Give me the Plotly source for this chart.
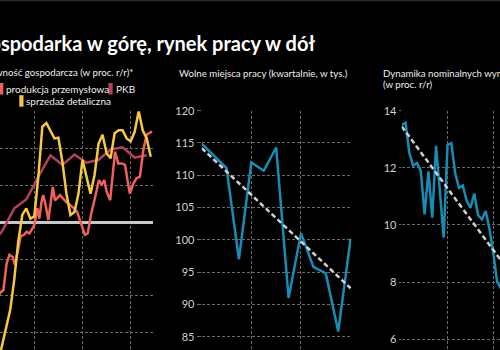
import plotly.graph_objects as go

# ---------------- data ----------------
# Panel 1: Aktywność gospodarcza (w proc. r/r) — month index
retail_months = list(range(3, 42))
retail_vals = [-19.0, -16.7, -14.2, -11.9, -7.8, -2.6, 1.0, 1.9, 0.5, 0.8, 6.2, 13.0, 13.5, 12.5,
               11.4, 11.5, 8.2, 3.9, 1.0, 1.4, 3.9, 8.5, 6.2, 3.9, 6.4, 10.7, 11.9, 9.4, 8.7,
               12.1, 12.5, 12.5, 11.4, 11.0, 12.3, 15.1, 12.5, 11.4, 8.9]

prod_months = [2.6, 3.45, 4.3, 5.1, 5.8, 6.6, 7.2, 8.0, 8.6, 9.4, 10.1, 10.8, 11.3, 12.0, 12.75,
               13.25, 13.8, 14.2, 14.8, 15.5, 16.6, 17.15, 17.7, 18.4, 19.9, 20.9, 21.9, 22.7,
               23.8, 24.6, 25.3, 26.1, 27.1, 28.1, 28.8, 29.4, 30.0, 30.9, 32.1, 32.9, 33.8,
               34.6, 35.4, 35.8, 36.7, 37.5, 38.3, 39.2, 40.0, 40.8, 41.4]
prod_vals = [-10.6, -9.6, -9.2, -5.6, -4.4, -4.7, -5.8, -3.8, -1.9, -1.7, -1.3, -1.5, -1.0, -0.4,
             1.9, 0.5, 2.8, 3.7, 2.4, 0.3, 4.8, 3.0, 3.3, 3.7, 2.8, 2.4, 1.9, 1.4, -0.4, -1.7,
             -1.5, 1.0, 3.3, 5.75, 5.1, 5.75, 4.2, 3.0, 9.6, 8.0, 8.0, 7.8, 5.1, 3.9, 5.3, 6.0,
             6.2, 10.0, 11.9, 12.2, 12.3]

gdp_months = [1, 4, 7, 10, 13, 16, 19, 22, 25, 28, 31, 34, 37, 40]
gdp_vals = [-3.0, -1.2, 1.9, 3.1, 6.2, 9.1, 7.8, 9.2, 8.1, 8.5, 9.9, 10.2, 8.8, 9.1]

# Panel 2: Wolne miejsca pracy (kwartalnie, w tys.)
vac_q = list(range(13))
vac_vals = [114.9, 113.0, 111.1, 97.0, 112.0, 110.7, 114.3, 91.0, 101.0, 95.8, 94.8, 85.8, 100.2]
vac_trend_q = [0, 12]
vac_trend = [114.2, 92.5]

# Panel 3: Dynamika nominalnych wynagrodzeń (w proc. r/r)
wage_m = list(range(27))
wage_vals = [13.50, 13.58, 12.52, 12.08, 12.17, 11.90, 10.37, 11.88, 10.26, 12.77, 11.17, 9.56,
             12.81, 12.86, 11.82, 11.30, 11.38, 10.85, 10.60, 11.10, 10.34, 10.20, 10.49, 9.85,
             9.00, 8.00, 7.77]
wage_trend_m = [0, 26]
wage_trend = [13.45, 8.76]

# ---------------- style ----------------
BG = "#000000"
GRID = "#6a6a6a"
C_PROD = "#f0605d"
C_GDP = "#b3405c"
C_RETAIL = "#f5c842"
C_BLUE = "#168db5"
C_TREND = "#d0d0d0"
FONT = "Lato"
W, H = 500, 350

fig = go.Figure()

fig.add_trace(go.Scatter(x=gdp_months, y=gdp_vals, mode="lines",
                         line=dict(color=C_GDP, width=2.5), xaxis="x", yaxis="y"))
fig.add_trace(go.Scatter(x=prod_months, y=prod_vals, mode="lines",
                         line=dict(color=C_PROD, width=2.5), xaxis="x", yaxis="y"))
fig.add_trace(go.Scatter(x=retail_months, y=retail_vals, mode="lines",
                         line=dict(color=C_RETAIL, width=2.5), xaxis="x", yaxis="y"))

fig.add_trace(go.Scatter(x=vac_q, y=vac_vals, mode="lines",
                         line=dict(color=C_BLUE, width=2.5), xaxis="x2", yaxis="y2"))
fig.add_trace(go.Scatter(x=vac_trend_q, y=vac_trend, mode="lines",
                         line=dict(color=C_TREND, width=2.5, dash="5px,3px"), xaxis="x2", yaxis="y2"))

fig.add_trace(go.Scatter(x=wage_m, y=wage_vals, mode="lines",
                         line=dict(color=C_BLUE, width=2.5), xaxis="x3", yaxis="y3"))
fig.add_trace(go.Scatter(x=wage_trend_m, y=wage_trend, mode="lines",
                         line=dict(color=C_TREND, width=2.5, dash="5px,3px"), xaxis="x3", yaxis="y3"))

def py(p):
    return 1 - p / H

def px(p):
    return p / W

grid = dict(showgrid=True, gridcolor=GRID, griddash="3px,2px", gridwidth=1,
            zeroline=False, showline=False, automargin=False)

fig.update_layout(
    width=W, height=H, margin=dict(l=0, r=0, t=0, b=0, autoexpand=False),
    paper_bgcolor=BG, plot_bgcolor=BG, showlegend=False,
    font=dict(family=FONT, color="#dddddd", size=11),
    xaxis=dict(domain=[0, px(152.7)], range=[3.45, 41.49], tick0=0, dtick=12, anchor="y",
               showticklabels=False, **grid),
    yaxis=dict(domain=[0, py(111.2)], range=[-17.35, 15.1], tick0=0, dtick=5, anchor="x",
               showticklabels=False, showgrid=True, gridcolor=GRID, griddash="3px,2px",
               zeroline=True, zerolinecolor="#c8c8c8", zerolinewidth=2.5, showline=False,
               automargin=False),
    xaxis2=dict(domain=[px(201.7), px(351.5)], range=[0, 12.07], tick0=0, dtick=4, anchor="y2",
                showticklabels=False, **grid),
    yaxis2=dict(domain=[0, py(110.7)], range=[82.94, 120], tick0=0, dtick=5, anchor="x2",
                ticks="outside", ticklen=4, tickcolor=GRID,
                tickfont=dict(family=FONT, size=11, color="#d0d0d0"), **grid),
    xaxis3=dict(domain=[px(401.7), 1], range=[0, 25.74], tick0=0, dtick=12, anchor="y3",
                showticklabels=False, **grid),
    yaxis3=dict(domain=[0, py(110.7)], range=[5.625, 14], tick0=0, dtick=2, anchor="x3",
                ticks="outside", ticklen=2, tickcolor=GRID,
                tickfont=dict(family=FONT, size=11, color="#d0d0d0"), **grid),
)

def label(text, x, y, size=11, color="#eeeeee", weight=None):
    f = dict(family=FONT, size=size, color=color)
    if weight:
        f["weight"] = weight
    fig.add_annotation(text=text, x=px(x), y=py(y), xref="paper", yref="paper",
                       xanchor="left", yanchor="middle", showarrow=False, font=f,
                       borderpad=0)

label("Gospodarka w górę, rynek pracy w dół", -26, 43, size=20, color="#ffffff", weight=700)
label("Aktywność gospodarcza (w proc. r/r)*", -26.5, 72, size=9.7)
label("Wolne miejsca pracy (kwartalnie, w tys.)", 178, 72.5, size=9.7)
label("Dynamika nominalnych wynagrodzeń", 381.5, 72.5, size=9.7)
label("(w proc. r/r)", 381.5, 84, size=9.7)

label("produkcja przemysłowa", 4.5, 89, size=10)
label("PKB", 114.5, 89, size=10)
label("sprzedaż detaliczna", 24.5, 101, size=10)

shapes = []
def rect(x0, x1, y0, y1, color):
    shapes.append(dict(type="rect", xref="paper", yref="paper", x0=px(x0), x1=px(x1),
                       y0=py(y1), y1=py(y0), fillcolor=color, line=dict(width=0)))

rect(-1.5, 3.3, 83, 94.5, C_PROD)
rect(108.3, 112.7, 83, 94.5, C_GDP)
rect(19.3, 23.5, 95.2, 106.7, C_RETAIL)
rect(0, 500, 0, 1.2, "#2b2b2b")
fig.update_layout(shapes=shapes)

fig.write_html("out.html")
